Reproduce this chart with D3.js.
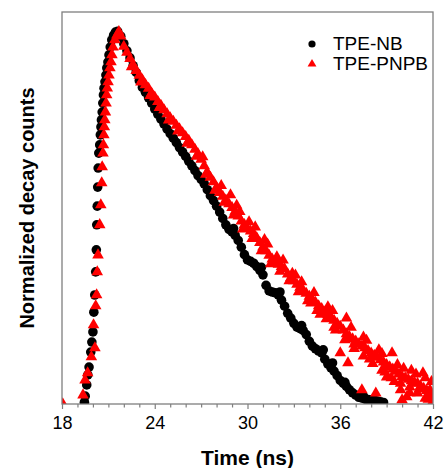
<!DOCTYPE html>
<html>
<head>
<meta charset="utf-8">
<script src="https://cdn.jsdelivr.net/npm/d3@7"></script>
<style>
  body { margin: 0; background: #fff; }
  text { font-family: "Liberation Sans", Arial, sans-serif; }
</style>
</head>
<body>
<div id="chart"></div>
<script>
// x range and ticks
var timeDomain = [18, 42];
var majorTicks = [18, 24, 30, 36, 42];
var seriesNames = ["TPE-NB", "TPE-PNPB"];

// TPE-NB: [time (ns), normalized counts]
var tpeNB = [
  [19.45,0.005],[19.50,0.021],[19.60,0.051],[19.67,0.078],[19.75,0.099],[19.86,0.139],[19.93,0.166],
  [20.00,0.193],[20.06,0.246],[20.12,0.292],[20.18,0.354],[20.22,0.413],[20.25,0.480],[20.28,0.530],
  [20.31,0.581],[20.34,0.632],[20.38,0.672],[20.44,0.694],[20.48,0.721],[20.52,0.742],[20.55,0.761],
  [20.60,0.782],[20.64,0.806],[20.68,0.828],[20.72,0.846],[20.78,0.863],[20.84,0.881],[20.90,0.900],
  [20.97,0.916],[21.04,0.935],[21.12,0.956],[21.22,0.975],[21.34,0.988],[21.46,0.996],
  [21.6,0.998],[21.8,0.985],[22.0,0.965],[22.2,0.946],[22.4,0.927],[22.6,0.906],[22.8,0.888],
  [23.0,0.866],[23.2,0.848],[23.4,0.835],[23.6,0.820],[23.8,0.806],[24.0,0.790],[24.2,0.776],
  [24.4,0.763],[24.6,0.750],[24.8,0.736],[25.0,0.724],[25.2,0.712],[25.4,0.700],[25.6,0.687],
  [25.8,0.675],[26.0,0.663],[26.2,0.650],[26.4,0.638],[26.6,0.625],[26.8,0.612],[27.0,0.602],
  [27.2,0.590],[27.4,0.574],[27.6,0.558],[27.8,0.545],[28.0,0.530],[28.2,0.514],[28.4,0.497],
  [28.6,0.480],[28.8,0.468],[29.0,0.461],[29.2,0.452],[29.4,0.438],[29.6,0.420],[29.8,0.400],
  [30.0,0.386],[30.2,0.382],[30.4,0.377],[30.6,0.368],[30.8,0.358],[31.0,0.346],[31.2,0.318],
  [31.4,0.303],[31.6,0.300],[31.8,0.298],[32.0,0.292],[32.2,0.278],[32.4,0.262],[32.6,0.243],
  [32.8,0.230],[33.0,0.216],[33.2,0.206],[33.4,0.202],[33.6,0.197],[33.8,0.186],[34.0,0.168],
  [34.2,0.155],[34.4,0.148],[34.6,0.142],[34.8,0.137],[35.0,0.120],[35.2,0.107],[35.4,0.097],
  [35.6,0.088],[35.8,0.076],[36.0,0.063],[36.2,0.055],[36.4,0.047],[36.6,0.038],[36.8,0.030],
  [37.0,0.024],[37.2,0.018],[37.4,0.016],[37.6,0.013],[37.8,0.012],[38.0,0.011],[38.2,0.010],
  [38.4,0.008],[38.6,0.006],[38.8,0.004],
  [29.1,0.470],[30.9,0.366],[32.1,0.300],[33.5,0.210],[34.9,0.145],[35.5,0.110],[36.3,0.058],[37.5,0.021]
];

// TPE-PNPB: [time (ns), normalized counts]
var tpePNPB = [
  [18.05,0.000],
  [19.36,0.024],[19.49,0.064],[19.66,0.083],[19.90,0.126],[20.04,0.212],[20.13,0.150],[20.18,0.263],
  [20.24,0.292],[20.28,0.354],[20.33,0.399],[20.44,0.480],[20.51,0.533],[20.57,0.592],[20.60,0.635],
  [20.65,0.672],[20.68,0.694],[20.71,0.721],[20.74,0.742],[20.77,0.761],[20.81,0.782],[20.85,0.806],
  [20.89,0.828],[20.93,0.846],[20.98,0.863],[21.04,0.881],[21.10,0.900],[21.17,0.916],[21.23,0.935],
  [21.30,0.956],[21.42,0.975],[21.55,0.988],[21.68,0.997],
  [21.8,0.985],[22.0,0.958],[22.2,0.942],[22.4,0.925],[22.6,0.908],[22.8,0.893],[23.0,0.880],
  [23.2,0.868],[23.4,0.855],[23.6,0.845],[23.8,0.832],[24.0,0.822],[24.2,0.810],[24.4,0.800],
  [24.6,0.788],[24.8,0.777],[25.0,0.766],[25.2,0.757],[25.4,0.746],[25.6,0.737],[25.8,0.726],
  [26.0,0.716],[26.2,0.706],[26.4,0.694],[26.6,0.682],[26.8,0.670],[27.0,0.655],[27.2,0.638],
  [27.4,0.620],[27.6,0.607],[27.8,0.595],[28.0,0.580],[28.2,0.566],[28.4,0.556],[28.6,0.546],
  [28.8,0.536],[29.0,0.526],[29.2,0.516],[29.4,0.503],[29.6,0.490],[29.8,0.480],[30.0,0.470],
  [30.2,0.463],[30.4,0.456],[30.6,0.445],[30.8,0.432],[31.0,0.420],[31.2,0.410],[31.4,0.398],
  [31.6,0.388],[31.8,0.380],[32.0,0.374],[32.2,0.368],[32.4,0.362],[32.6,0.348],[32.8,0.338],
  [33.0,0.330],[33.2,0.320],[33.4,0.312],[33.6,0.305],[33.8,0.296],[34.0,0.288],[34.2,0.280],
  [34.4,0.272],[34.6,0.263],[34.8,0.255],[35.0,0.246],[35.2,0.239],[35.4,0.232],[35.6,0.224],
  [35.8,0.216],[36.0,0.208],[36.2,0.198],[36.4,0.188],[36.6,0.180],[36.8,0.174],[37.0,0.168],
  [37.2,0.161],[37.4,0.155],[37.6,0.150],[37.8,0.143],[38.0,0.136],[38.2,0.130],[38.4,0.125],
  [38.6,0.118],[38.8,0.112],[39.0,0.105],[39.2,0.099],[39.4,0.093],[39.6,0.087],[39.8,0.080],
  [40.0,0.073],[40.2,0.070],[40.4,0.066],[40.6,0.062],[40.8,0.058],[41.0,0.055],[41.2,0.048],
  [41.4,0.042],[41.6,0.036],[41.8,0.029],[42.0,0.022],
  // scatter around the band
  [28.9,0.560],[29.5,0.515],[30.5,0.474],[31.3,0.428],[31.9,0.394],[32.9,0.350],[33.5,0.327],
  [34.1,0.270],[34.7,0.240],[35.2,0.260],[35.6,0.205],[36.0,0.137],[36.4,0.230],[36.5,0.110],
  [36.9,0.160],[37.5,0.179],[37.4,0.038],[37.9,0.120],[38.3,0.029],[38.5,0.145],[38.9,0.085],
  [39.0,0.072],[39.35,0.137],[39.5,0.060],[39.9,0.038],[40.0,0.011],[40.1,0.095],[40.3,0.019],
  [40.5,0.045],[40.7,0.056],[40.9,0.080],[41.0,0.029],[41.35,0.083],[41.5,0.015],[41.8,0.038],
  [41.9,0.060],[42.0,0.008],
  [22.5,0.903],[23.1,0.862],[23.7,0.826],[24.3,0.794],[24.9,0.760],[25.5,0.731],[26.1,0.698],
  [26.7,0.663],[27.3,0.615],[27.9,0.572],[28.5,0.540],[29.1,0.506],[29.7,0.468],[30.3,0.443],
  [30.9,0.410],[31.5,0.375],[32.1,0.355],[32.7,0.330],[33.3,0.300],[33.9,0.276],[34.5,0.250],
  [35.1,0.228],[35.7,0.198],[36.3,0.172],[36.9,0.148],[37.5,0.128],[38.1,0.108],[38.7,0.090],
  [39.3,0.070],[39.9,0.055],[40.5,0.030],[41.1,0.040],[41.7,0.012],
  [27.1,0.662],[28.3,0.585],[29.3,0.532],[30.1,0.488],[31.1,0.440],[32.3,0.385],[33.1,0.345],
  [34.3,0.298],[35.5,0.250],[36.7,0.205],[37.7,0.170],[38.7,0.135],[39.7,0.105],[40.6,0.090],
  [41.5,0.070]
];

var width = 444, height = 468;
var plotLeft = 62, plotRight = 433, plotTop = 12, plotBottom = 404;

var svg = d3.select("#chart").append("svg")
    .attr("width", width)
    .attr("height", height);

var x = d3.scaleLinear().domain(timeDomain).range([plotLeft, plotRight]);
var y = d3.scaleLinear().domain([0, 1.05]).range([plotBottom, plotTop]);

svg.append("defs").append("clipPath").attr("id", "plot")
  .append("rect")
    .attr("x", plotLeft).attr("y", plotTop)
    .attr("width", plotRight - plotLeft).attr("height", plotBottom - plotTop);

var marks = svg.append("g").attr("clip-path", "url(#plot)");

marks.selectAll("circle.nb")
  .data(tpeNB)
  .enter().append("circle")
    .attr("class", "nb")
    .attr("cx", function(d) { return x(d[0]); })
    .attr("cy", function(d) { return y(d[1]); })
    .attr("r", 4.8)
    .attr("fill", "#000");

var tri = d3.symbol().type(d3.symbolTriangle).size(58);
marks.selectAll("path.pnpb")
  .data(tpePNPB)
  .enter().append("path")
    .attr("class", "pnpb")
    .attr("d", tri)
    .attr("transform", function(d) { return "translate(" + x(d[0]) + "," + y(d[1]) + ")"; })
    .attr("fill", "#ff0000");

// frame
var axisColor = "#7f7f7f";
svg.append("rect")
    .attr("x", plotLeft).attr("y", plotTop)
    .attr("width", plotRight - plotLeft).attr("height", plotBottom - plotTop)
    .attr("fill", "none")
    .attr("stroke", axisColor)
    .attr("stroke-width", 1.3);

// x axis: minor ticks every ns, labels on the major ones
var minor = d3.range(timeDomain[0], timeDomain[1] + 1, 1);
var xAxis = d3.axisBottom(x)
    .tickValues(minor)
    .tickSize(4)
    .tickFormat(function(d) { return majorTicks.indexOf(d) >= 0 ? d : ""; });

var gx = svg.append("g")
    .attr("transform", "translate(0," + plotBottom + ")")
    .call(xAxis);
gx.select(".domain").remove();
gx.selectAll("line").attr("stroke", axisColor).attr("stroke-width", 1.2)
    .attr("y2", function(d) { return majorTicks.indexOf(d) >= 0 ? 5 : 3.5; });
gx.selectAll("text")
    .attr("y", 12)
    .attr("fill", "#000")
    .style("font-size", "18px");

svg.append("text")
    .attr("x", (plotLeft + plotRight) / 2)
    .attr("y", 465)
    .attr("text-anchor", "middle")
    .style("font-size", "21px")
    .style("font-weight", "bold")
    .text("Time (ns)");

svg.append("text")
    .attr("transform", "translate(34," + ((plotTop + plotBottom) / 2) + ") rotate(-90)")
    .attr("text-anchor", "middle")
    .style("font-size", "20px")
    .style("font-weight", "bold")
    .text("Normalized decay counts");

// legend
var legend = svg.append("g").attr("transform", "translate(312,44)");
legend.append("circle").attr("cx", 0).attr("cy", 0).attr("r", 3.6).attr("fill", "#000");
legend.append("path")
    .attr("d", d3.symbol().type(d3.symbolTriangle).size(34))
    .attr("transform", "translate(0,20)")
    .attr("fill", "#ff0000");
legend.selectAll("text.lab")
  .data(seriesNames)
  .enter().append("text")
    .attr("class", "lab")
    .attr("x", 21)
    .attr("y", function(d, i) { return i * 20 + 6; })
    .style("font-size", "19px")
    .text(function(d) { return d; });
</script>
</body>
</html>
